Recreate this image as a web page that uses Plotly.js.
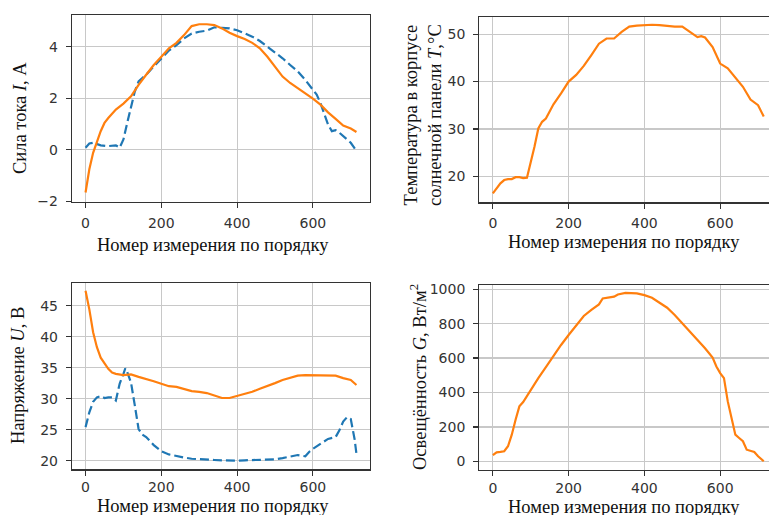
<!DOCTYPE html>
<html>
<head>
<meta charset="utf-8">
<script src="https://cdn.plot.ly/plotly-3.0.1.min.js"></script>
<style>
html,body{margin:0;padding:0;overflow:hidden;background:#fff;}
#chart{width:778px;height:515px;}
</style>
</head>
<body>
<div id="chart"></div>
<script>
// ---- Data ----
const xI_orange = [0,10,20,30,40,50,60,80,100,120,140,160,180,200,220,240,260,280,300,320,340,360,380,400,420,440,460,480,500,520,540,560,580,600,620,640,660,680,700,715];
const I_orange  = [-1.66,-0.76,-0.12,0.33,0.72,1.04,1.23,1.56,1.79,2.07,2.52,2.91,3.29,3.61,3.94,4.15,4.45,4.80,4.87,4.87,4.84,4.71,4.54,4.41,4.30,4.15,3.94,3.61,3.23,2.84,2.59,2.39,2.20,1.98,1.75,1.45,1.20,0.94,0.82,0.69];

const xI_blue = [0,10,20,40,60,80,90,100,110,120,130,140,160,180,200,220,240,260,280,300,320,340,360,380,400,420,440,460,480,500,520,540,560,580,600,610,620,630,640,650,660,670,680,690,700,715];
const I_blue  = [0.08,0.24,0.27,0.17,0.14,0.17,0.08,0.40,1.04,1.68,2.26,2.65,2.91,3.23,3.55,3.85,4.06,4.32,4.51,4.58,4.62,4.75,4.73,4.71,4.64,4.51,4.39,4.22,4.00,3.77,3.55,3.29,3.04,2.71,2.33,2.14,1.81,1.43,0.98,0.72,0.76,0.66,0.53,0.42,0.27,-0.05];

const xT = [0,10,20,30,40,50,60,70,80,90,100,110,120,130,140,150,160,180,200,220,240,260,280,300,320,340,360,380,400,420,440,460,480,500,520,540,550,560,580,600,620,640,660,680,700,715];
const T  = [16.4,17.5,18.5,19.2,19.4,19.4,19.8,19.8,19.6,19.7,22.7,26.3,30.1,31.5,32.2,33.6,35.2,37.5,40.0,41.4,43.3,45.6,48.0,49.1,49.1,50.5,51.6,51.8,51.9,52.0,51.9,51.7,51.6,51.6,50.5,49.4,49.6,49.3,47.3,43.8,42.8,40.8,38.9,36.2,35.0,32.6];

const xU_orange = [0,10,20,30,40,50,60,70,80,100,120,140,160,180,200,220,240,260,280,300,320,340,360,380,400,420,440,460,480,500,520,540,560,580,600,620,640,660,680,700,715];
const U_orange  = [47.4,44.4,40.7,38.3,36.6,35.6,34.8,34.2,34.0,33.8,33.9,33.5,33.2,32.8,32.4,32.0,31.9,31.6,31.2,31.1,30.9,30.5,30.1,30.1,30.4,30.7,31.1,31.6,32.0,32.5,33.0,33.4,33.7,33.8,33.8,33.8,33.8,33.7,33.3,33.0,32.2];

const xU_blue = [0,10,20,30,40,50,60,70,80,90,100,105,110,120,130,140,150,160,180,200,220,240,260,280,300,320,340,360,380,400,420,440,460,480,500,520,540,560,580,590,600,620,640,660,670,680,690,700,710,715];
const U_blue  = [25.4,27.8,29.5,30.2,30.4,30.1,30.2,30.2,29.7,32.4,34.0,34.9,34.3,32.6,28.9,25.1,24.2,23.8,22.5,21.5,21.0,20.7,20.5,20.3,20.2,20.2,20.1,20.05,20.0,20.0,20.05,20.1,20.1,20.1,20.2,20.4,20.7,20.9,20.7,21.4,21.9,22.7,23.5,23.8,24.9,26.3,27.0,26.7,23.5,21.1];

const xG = [0,10,20,30,40,50,60,70,80,100,120,140,160,180,200,220,240,260,280,290,320,330,350,380,400,420,440,460,480,500,520,540,560,580,590,600,610,620,630,640,650,660,670,680,690,700,715];
const G  = [37,54,56,60,89,156,243,320,345,416,484,547,615,676,734,792,844,879,911,946,956,969,978,975,965,950,923,892,850,802,753,711,657,603,551,513,484,349,252,156,137,118,69,64,56,31,2];

const xTicks = [0,200,400,600];
const yTicksI = [-2,0,2,4];
const yTicksT = [20,30,40,50];
const yTicksU = [20,25,30,35,40,45];
const yTicksG = [0,200,400,600,800,1000];

const xTitle = 'Номер измерения по порядку';
const yTitleI = 'Сила тока <i>I</i>, А';
const yTitleT = 'Температура в корпусе<br>солнечной панели <i>T</i>,°C';
const yTitleU = 'Напряжение <i>U</i>, В';
const yTitleG = 'Освещённость <i>G</i>, Вт/м<sup>2</sup>';

// ---- Layout geometry ----
const W = 778, H = 515;
const BLUE = '#1f77b4', ORANGE = '#ff7f0e';
const dx = v => v / W;
const dy = v => 1 - v / H;

const tickFont = {family: 'DejaVu Sans', size: 14, color: '#333'};

function axX(domain, anchor, standoff) {
  return {
    domain: domain, anchor: anchor, range: [-35.75, 750.75],
    tickvals: xTicks, ticks: 'outside', ticklen: 5, tickwidth: 1.2, tickcolor: '#333',
    ticklabelstandoff: standoff,
    showline: true, mirror: true, linecolor: '#333', linewidth: 1.2,
    showgrid: true, gridcolor: '#c8c8c8', gridwidth: 1.2, zeroline: false,
    tickfont: tickFont
  };
}
function axY(domain, anchor, range, ticks) {
  return {
    domain: domain, anchor: anchor, range: range,
    tickvals: ticks, ticktext: ticks.map(t => t < 0 ? '\u2212' + Math.abs(t) : String(t)),
    ticks: 'outside', ticklen: 5, tickwidth: 1.2, tickcolor: '#333',
    ticklabelstandoff: 5,
    showline: true, mirror: true, linecolor: '#333', linewidth: 1.2,
    showgrid: true, gridcolor: '#c8c8c8', gridwidth: 1.2, zeroline: false,
    tickfont: tickFont
  };
}

const lineSolid = {color: ORANGE, width: 2.2};
const lineDash = {color: BLUE, width: 2.2, dash: '9px,4px'};

const traces = [
  {x: xI_blue, y: I_blue, xaxis: 'x', yaxis: 'y', mode: 'lines', line: lineDash},
  {x: xI_orange, y: I_orange, xaxis: 'x', yaxis: 'y', mode: 'lines', line: lineSolid},
  {x: xT, y: T, xaxis: 'x2', yaxis: 'y2', mode: 'lines', line: lineSolid},
  {x: xU_blue, y: U_blue, xaxis: 'x3', yaxis: 'y3', mode: 'lines', line: lineDash},
  {x: xU_orange, y: U_orange, xaxis: 'x3', yaxis: 'y3', mode: 'lines', line: lineSolid},
  {x: xG, y: G, xaxis: 'x4', yaxis: 'y4', mode: 'lines', line: lineSolid}
];

const titleFont = {family: 'Liberation Serif', size: 18.5, color: '#111'};
function ann(text, x, y, angle) {
  return {text: text, xref: 'paper', yref: 'paper', x: dx(x), y: dy(y),
          xanchor: 'center', yanchor: 'middle', showarrow: false,
          textangle: angle, font: titleFont, align: 'center'};
}

const layout = {
  width: W, height: H, margin: {l: 0, r: 0, t: 0, b: 0},
  paper_bgcolor: '#fff', plot_bgcolor: '#fff', showlegend: false,
  xaxis: axX([dx(72), dx(370)], 'y', 3),
  yaxis: axY([dy(202), dy(15)], 'x', [-2.03, 5.23], yTicksI),
  xaxis2: axX([dx(479.3), dx(777.3)], 'y2', 3),
  yaxis2: axY([dy(202.3), dy(16.7)], 'x2', [14.5, 53.7], yTicksT),
  xaxis3: axX([dx(72), dx(370)], 'y3', 0),
  yaxis3: axY([dy(469.3), dy(283.3)], 'x3', [18.6, 48.6], yTicksU),
  xaxis4: axX([dx(479.3), dx(777.3)], 'y4', 0),
  yaxis4: axY([dy(470), dy(285)], 'x4', [-48.75, 1023.75], yTicksG),
  annotations: [
    ann(xTitle, 212.5, 245, 0),
    ann(xTitle, 624, 242, 0),
    ann(xTitle, 212.5, 506, 0),
    ann(xTitle, 624, 507, 0),
    ann(yTitleI, 20, 118, -90),
    ann(yTitleT, 423, 115, -90),
    ann(yTitleU, 18, 376, -90),
    ann(yTitleG, 418, 377, -90)
  ]
};

Plotly.newPlot('chart', traces, layout, {displayModeBar: false, staticPlot: true});
</script>
</body>
</html>
